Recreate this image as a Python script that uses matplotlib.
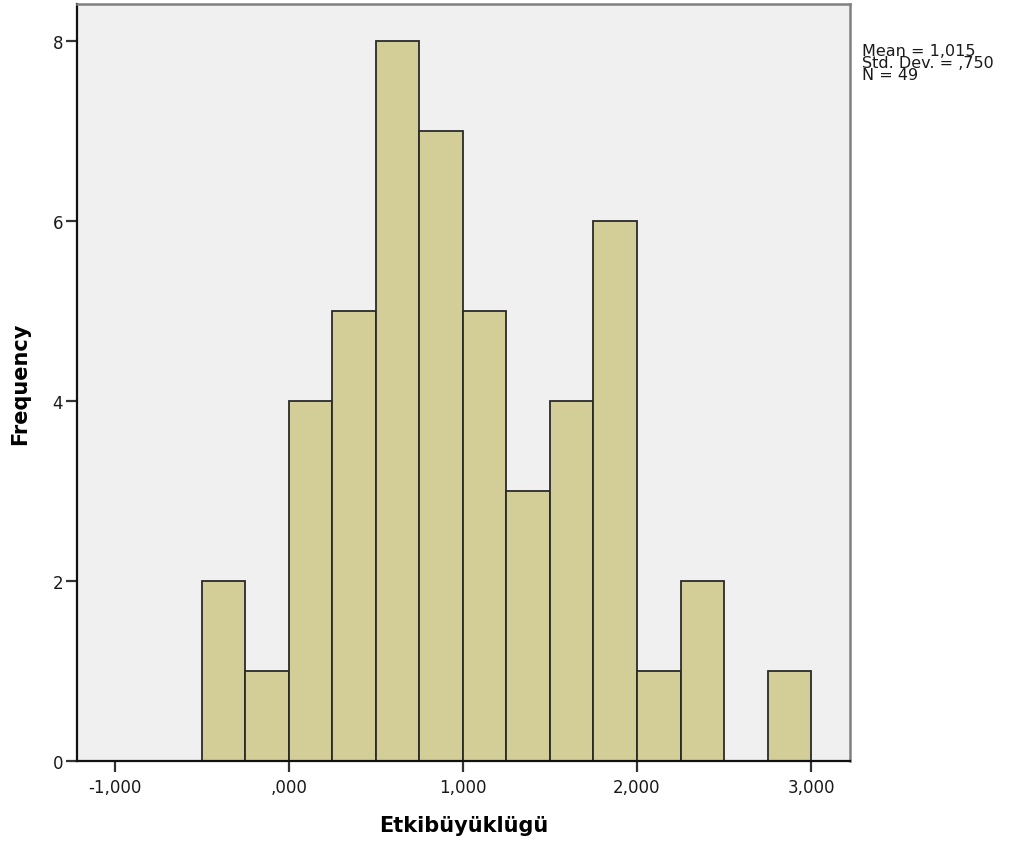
import matplotlib
matplotlib.use("Agg")
import matplotlib.pyplot as plt
import numpy as np

# Histogram of effect sizes: bin left edges (width 0.25) and frequencies
bin_left = [-0.50, -0.25, 0.00, 0.25, 0.50, 0.75, 1.00, 1.25, 1.50, 1.75, 2.00, 2.25, 2.50, 2.75]
counts = [2, 1, 4, 5, 8, 7, 5, 3, 4, 6, 1, 2, 0, 1]
bin_width = 0.25

x_ticks = [-1, 0, 1, 2, 3]
x_tick_labels = ["-1,000", ",000", "1,000", "2,000", "3,000"]
y_ticks = [0, 2, 4, 6, 8]

stats_lines = ["Mean = 1,015", "Std. Dev. = ,750", "N = 49"]

plt.rcParams["font.family"] = ["DejaVu Sans"]

W, H = 1011, 845
fig = plt.figure(figsize=(W / 100, H / 100), dpi=100)
fig.patch.set_facecolor("white")

ax_l, ax_r, ax_t, ax_b = 77, 850, 5, 762
ax = fig.add_axes([ax_l / W, 1 - ax_b / H, (ax_r - ax_l) / W, (ax_b - ax_t) / H])
ax.set_facecolor("#F0F0F0")

lefts = [l for l, c in zip(bin_left, counts) if c > 0]
heights = [c for c in counts if c > 0]
ax.bar(lefts, heights, width=bin_width, align="edge",
       color="#D3CE98", edgecolor="#2a2a2a", linewidth=1.3, zorder=2)

ax.set_xlim(-1.218, 3.224)
ax.set_ylim(0, 8.41)

ax.set_xticks(x_ticks)
ax.set_xticklabels(x_tick_labels)
ax.set_yticks(y_ticks)

ax.tick_params(axis="both", direction="out", length=8, width=1.6,
               color="#333333", labelsize=12, labelcolor="#1a1a1a")
ax.tick_params(axis="x", pad=4)
ax.tick_params(axis="y", pad=2)

for side in ("left", "bottom"):
    ax.spines[side].set_color("#111111")
    ax.spines[side].set_linewidth(1.6)
for side in ("top", "right"):
    ax.spines[side].set_color("#808080")
    ax.spines[side].set_linewidth(1.8)

ax.set_xlabel("Etkibüyüklügü", fontsize=15, fontweight="bold")
ax.xaxis.set_label_coords(0.5, -(826 - ax_b) / (ax_b - ax_t))
ax.xaxis.label.set_va("center")

ax.set_ylabel("Frequency", fontsize=15, fontweight="bold")
ax.yaxis.set_label_coords((20 - ax_l) / (ax_r - ax_l), 0.5)
ax.yaxis.label.set_va("center")

# Summary statistics to the right of the plot area
fig.text(862 / W, 1 - 44 / H, "\n".join(stats_lines), fontsize=11.5,
         color="#1a1a1a", ha="left", va="top", linespacing=0.77)

fig.savefig("out.png", dpi=100, facecolor="white")
